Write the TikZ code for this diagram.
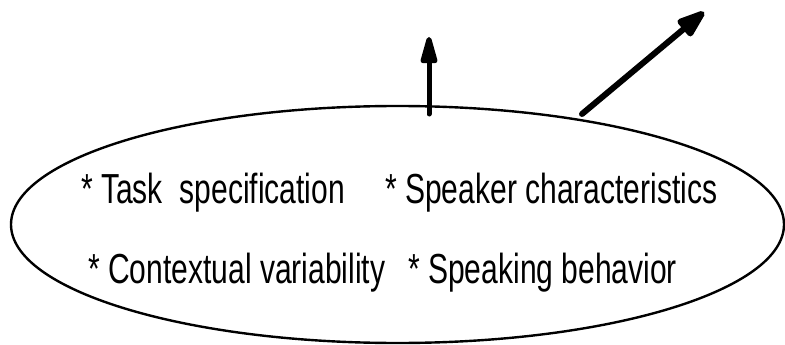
\documentclass[tikz,border=0pt]{standalone}
\usepackage{fontspec}
\setmainfont{Liberation Sans}[FakeStretch=0.715]
\usetikzlibrary{shapes.geometric,arrows.meta}
\begin{document}
\begin{tikzpicture}[x=1pt,y=-1pt,
  cloudshape/.style={draw, ellipse, line width=2.4pt, inner sep=0pt,
    minimum width=773pt, minimum height=237pt},
  item/.style={anchor=base west, inner sep=0pt, font=\fontsize{42}{48}\selectfont},
  bigarrow/.style={line width=5pt, line cap=round,
    -{Triangle[length=34pt,width=17pt,round]}},
  diagarrow/.style={line width=6pt, line cap=round,
    -{Triangle[length=34pt,width=22pt,round]}}]
\useasboundingbox (0,0) rectangle (785,345);
\node[cloudshape] (cloud) at (397.5,224.5) {};
\node[item] (task) at (81,203) {* Task\ \ specification};
\node[item] (speaker) at (385,203) {* Speaker characteristics};
\node[item] (context) at (88,283) {* Contextual variability};
\node[item] (behav) at (408,283) {* Speaking behavior};
\coordinate (upstart) at (429,114);
\coordinate (uptip) at (429,37);
\coordinate (diagstart) at (582,114);
\coordinate (diagtip) at (704,12);
\draw[bigarrow] (upstart) -- (uptip);
\draw[diagarrow] (diagstart) -- (diagtip);
\end{tikzpicture}
\end{document}
